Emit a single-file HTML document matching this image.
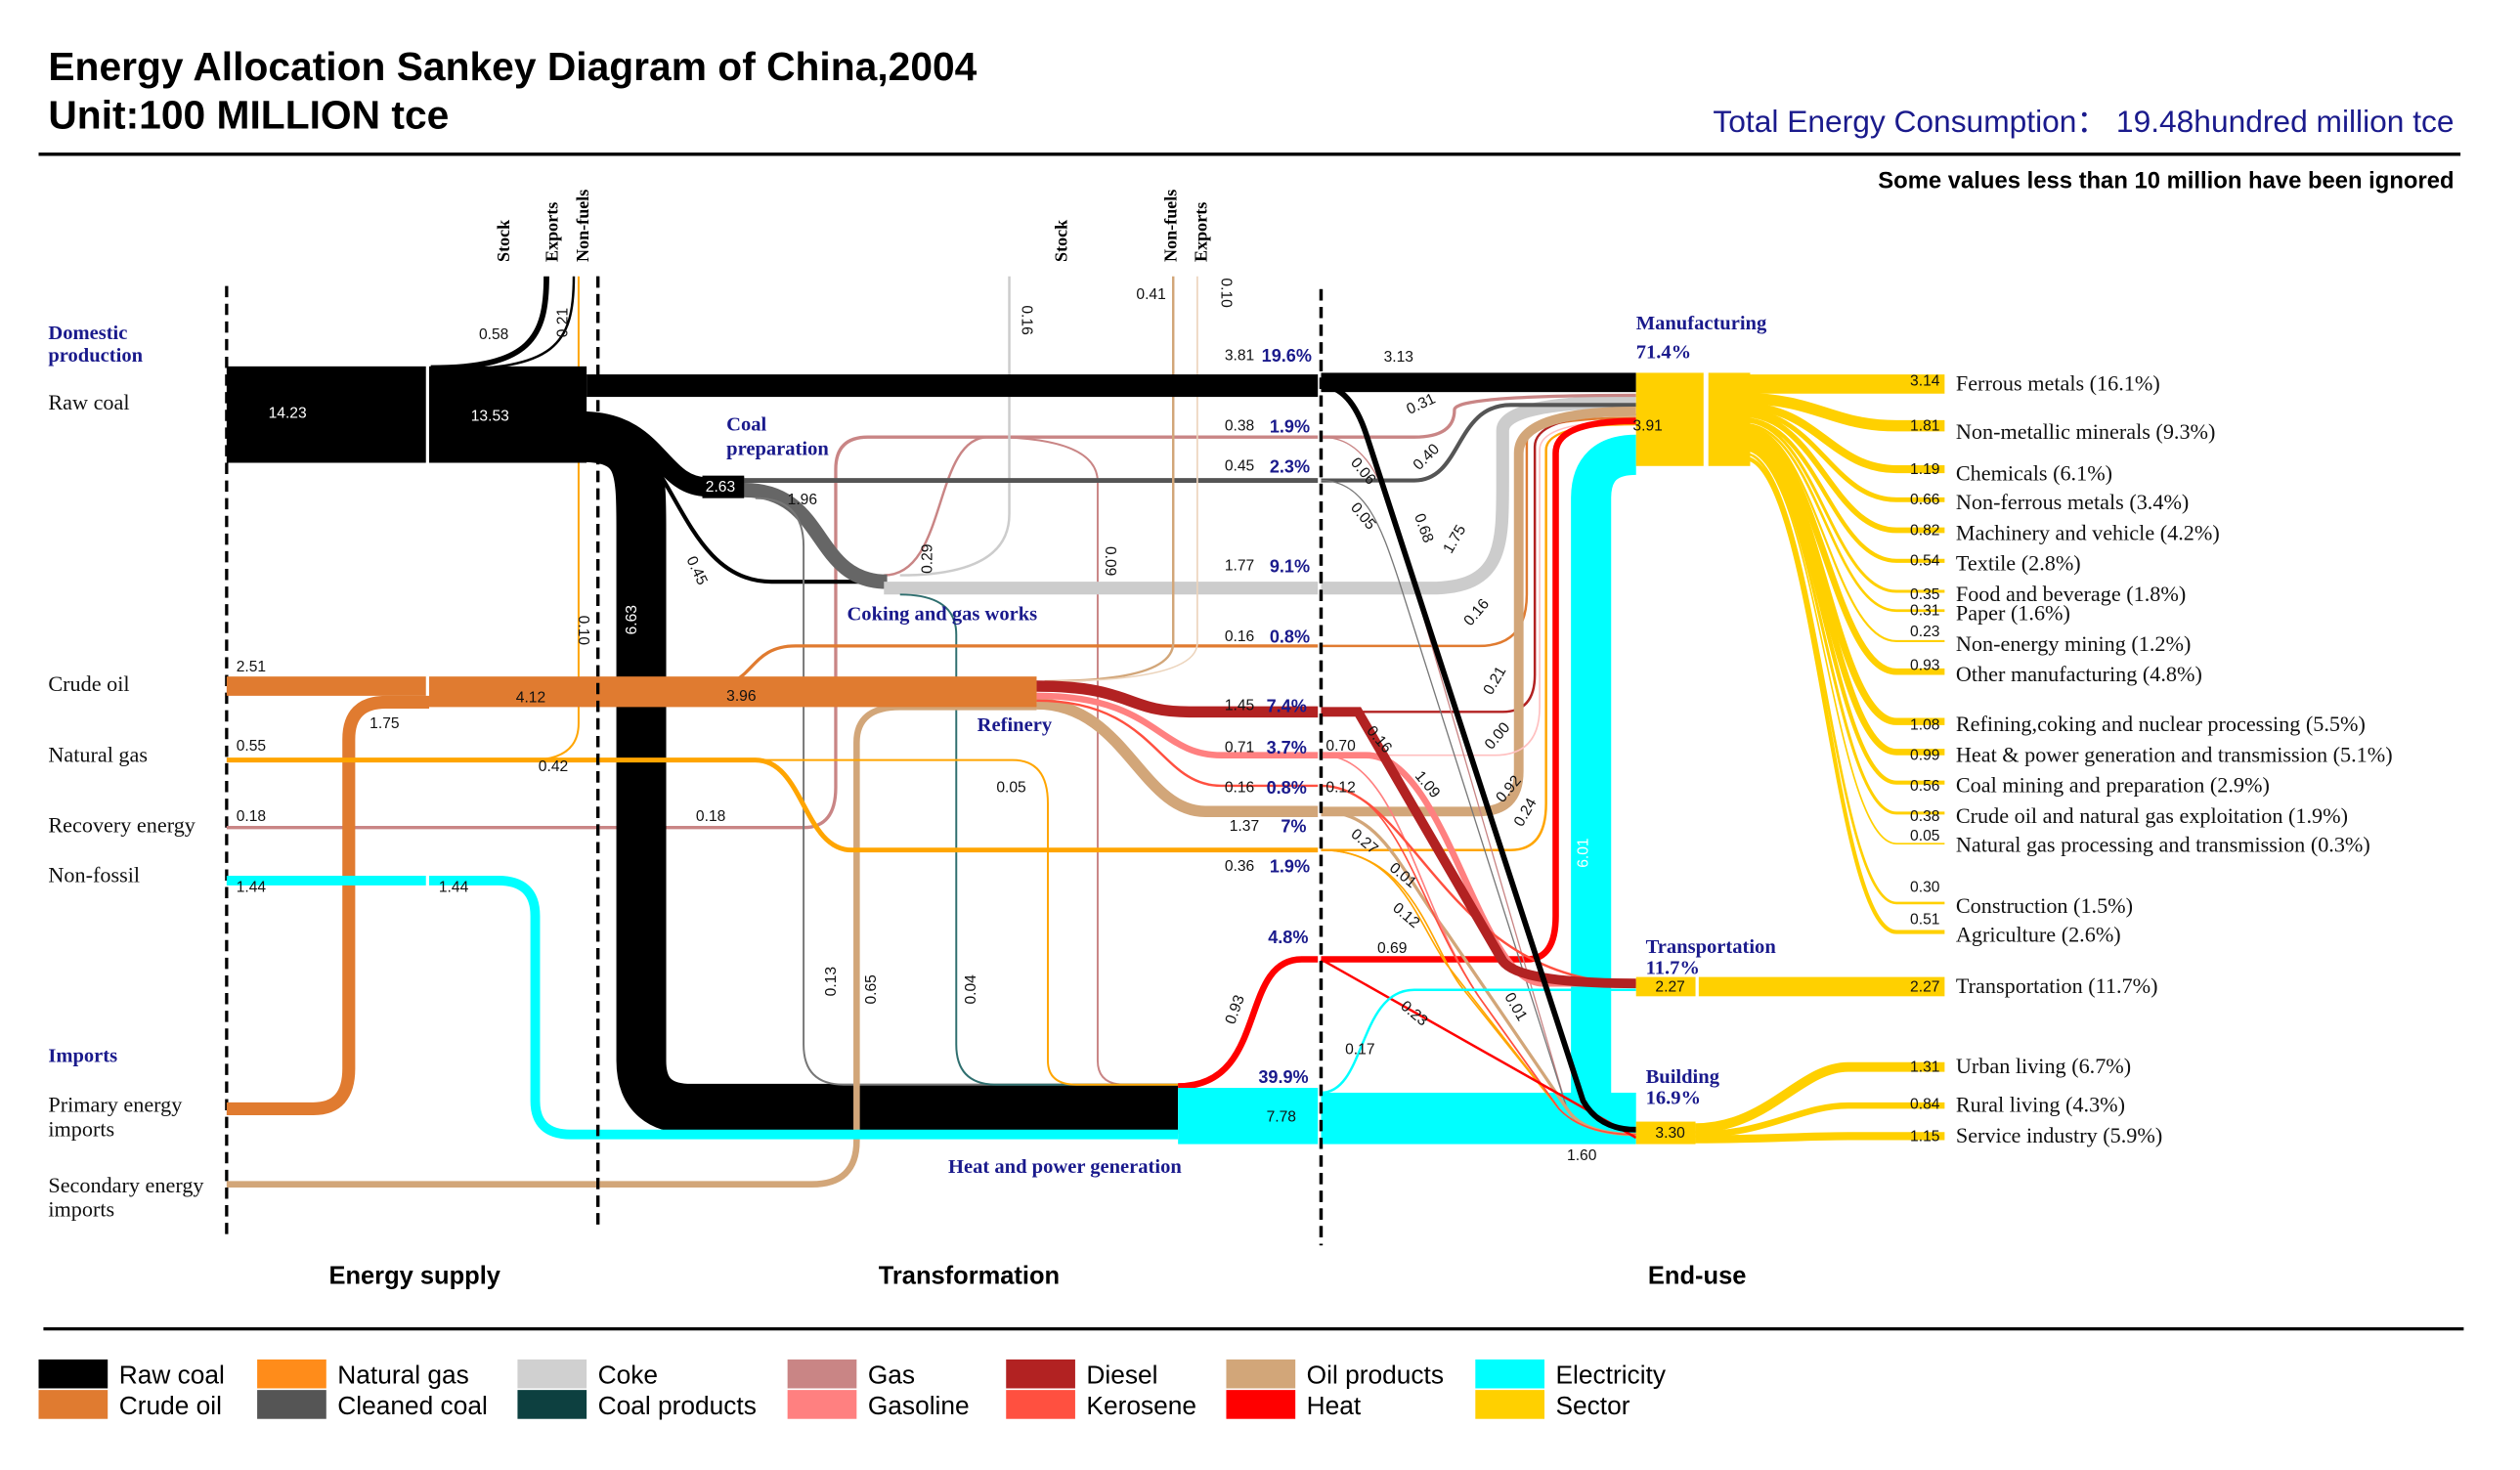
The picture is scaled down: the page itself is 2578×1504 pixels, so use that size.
<!DOCTYPE html>
<html><head><meta charset="utf-8"><style>
html,body{margin:0;padding:0;background:#fff;}
svg{display:block;}
.t{font-family:"Liberation Sans",sans-serif;}
.s{font-family:"Liberation Serif",serif;}
.n{font-family:"Liberation Sans",sans-serif;font-size:9.5px;fill:#111;}
.nw{font-family:"Liberation Sans",sans-serif;font-size:9.5px;fill:#fff;}
.lb{font-family:"Liberation Serif",serif;font-size:13.5px;fill:#111;}
.nv{font-family:"Liberation Serif",serif;font-size:12.5px;fill:#1a1a8c;font-weight:bold;}
.pc{font-family:"Liberation Sans",sans-serif;font-size:11px;fill:#1a1a8c;font-weight:bold;}
.f{fill:none;}
</style></head><body>
<svg width="2578" height="1504" viewBox="0 0 1568 914.8" xmlns="http://www.w3.org/2000/svg">
<rect width="1568" height="915" fill="#fff"/>
<!-- header -->
<text x="30" y="50" class="t" font-size="24.8" font-weight="bold">Energy Allocation Sankey Diagram of China,2004</text>
<text x="30" y="80" class="t" font-size="24.8" font-weight="bold">Unit:100 MILLION tce</text>
<text x="1527" y="82" class="t" font-size="19.3" fill="#1a1a8c" text-anchor="end">Total Energy Consumption：  19.48hundred million tce</text>
<line x1="24" y1="96" x2="1531" y2="96" stroke="#000" stroke-width="2"/>
<text x="1527" y="117" class="t" font-size="14.5" font-weight="bold" text-anchor="end">Some values less than 10 million have been ignored</text>

<!-- dashed columns -->
<g stroke="#000" stroke-width="2" stroke-dasharray="7,4">
<line x1="141" y1="178" x2="141" y2="770"/>
<line x1="372" y1="172" x2="372" y2="765"/>
<line x1="822" y1="180" x2="822" y2="775"/>
</g>

<!-- top labels -->
<g class="s" font-size="11" font-weight="bold">
<text transform="translate(317,163) rotate(-90)">Stock</text>
<text transform="translate(347,163) rotate(-90)">Exports</text>
<text transform="translate(366,163) rotate(-90)">Non-fuels</text>
<text transform="translate(664,163) rotate(-90)">Stock</text>
<text transform="translate(732,163) rotate(-90)">Non-fuels</text>
<text transform="translate(751,163) rotate(-90)">Exports</text>
</g>

<!-- Flows: transformation region -->
<g class="f">
<path d="M268,229 C330,229 340,210 340,172" stroke="#000" stroke-width="3.5"/>
<path d="M275,230 C345,230 357,215 357,172" stroke="#000" stroke-width="1.5"/>
<path d="M330,473 Q360,473 360,450 V172" stroke="#ffa500" stroke-width="1.2"/>
<path d="M141,515 H500 Q520,515 520,490 V292 Q520,272 540,272 H820" stroke="#c98585" stroke-width="2"/>
<path d="M550,358 C590,358 580,272 615,272" stroke="#c98585" stroke-width="1.5"/>
<path d="M615,272 Q683,272 683,300 V660 Q683,675 700,675 H733" stroke="#c98585" stroke-width="1.2"/>
<path d="M560,358 Q628,358 628,320 V172" stroke="#ccc" stroke-width="1.5"/>
<path d="M360,272 C399,272 399,290 399,330 V660 Q399,690 430,690 H733" stroke="#000" stroke-width="31"/>
<path d="M362,262 C410,262 410,303 440,303 H463" stroke="#000" stroke-width="12"/>
<path d="M370,265 C420,265 420,362 480,362 H550" stroke="#000" stroke-width="2.5"/>
<path d="M463,299 H820" stroke="#555" stroke-width="3"/>
<path d="M463,305 C515,305 505,362 552,362" stroke="#666" stroke-width="9"/>
<path d="M470,310 Q500,310 500,340 V650 Q500,675 525,675 H733" stroke="#777" stroke-width="1.2"/>
<path d="M550,366 H820" stroke="#ccc" stroke-width="8"/>
<path d="M560,370 Q595,370 595,395 V650 Q595,675 620,675 H733" stroke="#2f6f6f" stroke-width="1.2"/>
<path d="M141,690 H195 Q217,690 217,665 V460 Q217,437 240,437 H267" stroke="#e07b30" stroke-width="8"/>
<path d="M440,428 C470,428 465,402 495,402 H820" stroke="#e07b30" stroke-width="2"/>
<path d="M141,737 H505 Q533,737 533,710 V462 Q533,440 560,440 H645" stroke="#d2a679" stroke-width="4"/>
<path d="M650,424 Q730,424 730,400 V172" stroke="#d2a679" stroke-width="1.5"/>
<path d="M650,424 Q745,424 745,400 V172" stroke="#ecd4bc" stroke-width="1"/>
<path d="M141,473 H470 C500,473 500,529 530,529 H820" stroke="#ffa500" stroke-width="3"/>
<path d="M470,473 H630 Q652,473 652,500 V660 Q652,675 670,675 H733" stroke="#ffa500" stroke-width="1.2"/>
<path d="M645,438 C700,438 710,505 750,505 H820" stroke="#d2a679" stroke-width="7"/>
<path d="M645,436 C720,436 720,489 760,489 H820" stroke="#ff5040" stroke-width="1.5"/>
<path d="M645,433 C720,433 720,470 760,470 H820" stroke="#ff8080" stroke-width="4"/>
<path d="M645,427 C705,427 700,443 740,443 H820" stroke="#b22222" stroke-width="7"/>
<path d="M267,548 H310 Q333,548 333,570 V685 Q333,706 355,706 H733" stroke="#00ffff" stroke-width="6"/>
<path d="M733,676 C790,676 770,597 810,597 H820" stroke="#ff0000" stroke-width="4"/>
</g>
<rect x="141" y="228" width="124" height="60" fill="#000"/>
<rect x="267" y="228" width="98" height="60" fill="#000"/>
<rect x="365" y="233" width="455" height="14" fill="#000"/>
<rect x="437" y="296" width="26" height="14" fill="#000"/>
<rect x="141" y="421" width="124" height="12" fill="#e07b30"/>
<rect x="267" y="421" width="378" height="19" fill="#e07b30"/>
<rect x="141" y="545" width="124" height="6" fill="#00ffff"/>
<rect x="733" y="677" width="87" height="35" fill="#00ffff"/>
<line x1="372" y1="172" x2="372" y2="765" stroke="#000" stroke-width="2" stroke-dasharray="7,4"/>

<!-- End-use flows -->
<g class="f">
<rect x="822" y="680" width="196" height="32" fill="#00ffff" stroke="none"/>
<path d="M1018,283 Q990,283 990,310 V690" stroke="#00ffff" stroke-width="25"/>
<path d="M822,366 H890 C935,366 935,340 935,300 V268 Q935,250 1018,250" stroke="#ccc" stroke-width="8"/>
<path d="M822,272 H880 Q905,272 905,255 Q905,246 1018,246" stroke="#c98585" stroke-width="2"/>
<path d="M822,299 H880 C910,299 905,252 940,252 H1018" stroke="#555" stroke-width="2.5"/>
<path d="M822,402 H920 Q950,402 950,370 V275 Q950,260 1018,260" stroke="#e07b30" stroke-width="1.5"/>
<path d="M822,443 H935 Q955,443 955,420 V278 Q955,258 1018,258" stroke="#b22222" stroke-width="1.5"/>
<path d="M822,505 H920 Q945,505 945,480 V282 Q945,256 1018,256" stroke="#d2a679" stroke-width="6"/>
<path d="M822,529 H940 Q962,529 962,500 V280 Q962,264 1018,264" stroke="#ffa500" stroke-width="1.5"/>
<path d="M822,470 H930 Q958,470 958,440 V280 Q958,262 1018,262" stroke="#ffc0c0" stroke-width="1"/>
<path d="M822,597 H950 Q968,597 968,570 V282 Q968,262 1018,262" stroke="#ff0000" stroke-width="4"/>
<path d="M822,272 C850,272 860,300 870,330 L975,690 Q982,706 1018,706" stroke="#c98585" stroke-width="0.8"/>
<path d="M822,299 C850,299 860,330 870,360 L975,690 Q982,706 1018,706" stroke="#777" stroke-width="0.8"/>
<path d="M822,505 C860,505 870,540 900,580 L975,690 Q985,706 1018,706" stroke="#d2a679" stroke-width="2"/>
<path d="M822,529 C870,529 880,570 900,600 L970,690 Q985,706 1018,706" stroke="#ffa500" stroke-width="1"/>
<path d="M822,529 C880,529 890,590 910,615 L970,690 Q985,706 1018,706" stroke="#ffa500" stroke-width="1"/>
<path d="M822,470 C870,470 880,560 920,620 L970,690 Q985,706 1018,706" stroke="#ff8080" stroke-width="1"/>
<path d="M822,489 C870,489 880,560 920,620 L970,690 Q985,706 1018,706" stroke="#ff5040" stroke-width="1"/>
<path d="M822,597 L1018,708" stroke="#ff0000" stroke-width="1.5"/>
<path d="M822,680 C850,680 845,616 880,616 H1018" stroke="#00ffff" stroke-width="1.5"/>
<path d="M822,470 H850 C900,470 920,612 960,612 H1018" stroke="#ff8080" stroke-width="4"/>
<path d="M822,489 C880,489 900,612 1018,612" stroke="#ff5040" stroke-width="1.5"/>
<path d="M822,443 H845 L935,598 Q945,612 1018,612" stroke="#b22222" stroke-width="6"/>
<path d="M822,240 Q840,240 850,270 L985,685 Q995,703 1018,703" stroke="#000" stroke-width="3.5"/>
</g>
<rect x="822" y="232" width="196" height="12" fill="#000"/>
<line x1="822" y1="180" x2="822" y2="775" stroke="#000" stroke-width="2" stroke-dasharray="7,4"/>

<!-- Sector boxes -->
<rect x="1018" y="232" width="42" height="58" fill="#ffd000"/>
<rect x="1063" y="232" width="26" height="58" fill="#ffd000"/>
<rect x="1018" y="608" width="37" height="12" fill="#ffd000"/>
<rect x="1057" y="608" width="153" height="12" fill="#ffd000"/>
<rect x="1018" y="698" width="37" height="14" fill="#ffd000"/>
<g class="f" stroke="#ffd000">
<path d="M1085,239 H1210" stroke-width="12"/>
<path d="M1085,248 C1130,248 1140,265 1180,265 H1210" stroke-width="7"/>
<path d="M1085,253 C1130,253 1140,292 1180,292 H1210" stroke-width="5"/>
<path d="M1085,256 C1130,256 1140,311 1180,311 H1210" stroke-width="3"/>
<path d="M1085,258 C1130,258 1140,330 1180,330 H1210" stroke-width="3.5"/>
<path d="M1085,261 C1130,261 1140,349 1180,349 H1210" stroke-width="2.5"/>
<path d="M1085,262 C1130,262 1140,368 1180,368 H1210" stroke-width="1.8"/>
<path d="M1085,264 C1130,264 1140,380 1180,380 H1210" stroke-width="1.6"/>
<path d="M1085,265 C1130,265 1140,399 1180,399 H1210" stroke-width="1.3"/>
<path d="M1085,267 C1130,267 1140,418 1180,418 H1210" stroke-width="4"/>
<path d="M1085,270 C1130,270 1140,449 1180,449 H1210" stroke-width="4.5"/>
<path d="M1085,274 C1130,274 1140,468 1180,468 H1210" stroke-width="4"/>
<path d="M1085,277 C1130,277 1140,487 1180,487 H1210" stroke-width="2.5"/>
<path d="M1085,279 C1130,279 1140,506 1180,506 H1210" stroke-width="1.8"/>
<path d="M1085,280 C1130,280 1140,525 1180,525 H1210" stroke-width="1"/>
<path d="M1085,282 C1130,282 1140,562 1180,562 H1210" stroke-width="1.6"/>
<path d="M1085,285 C1130,285 1140,580 1180,580 H1210" stroke-width="2.5"/>
<path d="M1055,702 C1100,702 1120,664 1150,664 H1210" stroke-width="6"/>
<path d="M1055,706 C1100,706 1120,688 1150,688 H1210" stroke-width="4"/>
<path d="M1055,709 C1100,709 1120,707 1150,707 H1210" stroke-width="5"/>
</g>

<!-- left labels -->
<text x="30" y="211" class="nv" font-weight="normal">Domestic</text>
<text x="30" y="225" class="nv" font-weight="normal">production</text>
<text x="30" y="255" class="lb">Raw coal</text>
<text x="30" y="430" class="lb">Crude oil</text>
<text x="30" y="474" class="lb">Natural gas</text>
<text x="30" y="518" class="lb">Recovery energy</text>
<text x="30" y="549" class="lb">Non-fossil</text>
<text x="30" y="661" class="nv" font-weight="normal">Imports</text>
<text x="30" y="692" class="lb">Primary energy</text>
<text x="30" y="707" class="lb">imports</text>
<text x="30" y="742" class="lb">Secondary energy</text>
<text x="30" y="757" class="lb">imports</text>

<!-- stage labels -->
<text x="452" y="268" class="nv" font-weight="normal">Coal</text>
<text x="452" y="283" class="nv" font-weight="normal">preparation</text>
<text x="527" y="386" class="nv" font-weight="normal">Coking and gas works</text>
<text x="608" y="455" class="nv" font-weight="normal">Refinery</text>
<text x="590" y="730" class="nv" font-weight="normal">Heat and power generation</text>
<text x="1018" y="205" class="nv" font-weight="normal">Manufacturing</text>
<text x="1018" y="223" class="nv">71.4%</text>
<text x="1024" y="593" class="nv" font-weight="normal">Transportation</text>
<text x="1024" y="606" class="nv" font-weight="normal">11.7%</text>
<text x="1024" y="674" class="nv" font-weight="normal">Building</text>
<text x="1024" y="687" class="nv" font-weight="normal">16.9%</text>

<!-- numbers -->
<text x="167" y="260" class="nw">14.23</text>
<text x="293" y="262" class="nw">13.53</text>
<text x="298" y="211" class="n">0.58</text>
<text transform="translate(353,210) rotate(-90)" class="n">0.21</text>
<text x="147" y="418" class="n">2.51</text>
<text x="321" y="437" class="n">4.12</text>
<text x="452" y="436" class="n">3.96</text>
<text x="230" y="453" class="n">1.75</text>
<text x="147" y="467" class="n">0.55</text>
<text x="335" y="480" class="n">0.42</text>
<text x="147" y="511" class="n">0.18</text>
<text x="433" y="511" class="n">0.18</text>
<text x="147" y="555" class="n">1.44</text>
<text x="273" y="555" class="n">1.44</text>
<text transform="translate(360,383) rotate(90)" class="n">0.10</text>
<text transform="translate(396,395) rotate(-90)" class="nw">6.63</text>
<text transform="translate(427,348) rotate(65)" class="n">0.45</text>
<text x="439" y="306" class="nw">2.63</text>
<text x="490" y="314" class="n">1.96</text>
<text transform="translate(580,357) rotate(-90)" class="n">0.29</text>
<text transform="translate(636,190) rotate(90)" class="n">0.16</text>
<text transform="translate(688,340) rotate(90)" class="n">0.09</text>
<text x="707" y="186" class="n">0.41</text>
<text transform="translate(760,173) rotate(90)" class="n">0.10</text>
<text x="620" y="493" class="n">0.05</text>
<text transform="translate(520,620) rotate(-90)" class="n">0.13</text>
<text transform="translate(545,625) rotate(-90)" class="n">0.65</text>
<text transform="translate(607,625) rotate(-90)" class="n">0.04</text>
<text transform="translate(768,638) rotate(-70)" class="n">0.93</text>
<text x="788" y="698" class="n">7.78</text>
<g>
<text x="762" y="224" class="n">3.81</text><text x="785" y="225" class="pc">19.6%</text>
<text x="762" y="268" class="n">0.38</text><text x="790" y="269" class="pc">1.9%</text>
<text x="762" y="293" class="n">0.45</text><text x="790" y="294" class="pc">2.3%</text>
<text x="762" y="355" class="n">1.77</text><text x="790" y="356" class="pc">9.1%</text>
<text x="762" y="399" class="n">0.16</text><text x="790" y="400" class="pc">0.8%</text>
<text x="762" y="442" class="n">1.45</text><text x="788" y="443" class="pc">7.4%</text>
<text x="762" y="468" class="n">0.71</text><text x="788" y="469" class="pc">3.7%</text>
<text x="762" y="493" class="n">0.16</text><text x="788" y="494" class="pc">0.8%</text>
<text x="765" y="517" class="n">1.37</text><text x="797" y="518" class="pc">7%</text>
<text x="762" y="542" class="n">0.36</text><text x="790" y="543" class="pc">1.9%</text>
<text x="789" y="587" class="pc">4.8%</text>
<text x="783" y="674" class="pc">39.9%</text>
</g>
<text x="861" y="225" class="n">3.13</text>
<text transform="translate(877,258) rotate(-25)" class="n">0.31</text>
<text transform="translate(883,293) rotate(-45)" class="n">0.40</text>
<text transform="translate(840,288) rotate(50)" class="n">0.06</text>
<text transform="translate(840,316) rotate(50)" class="n">0.05</text>
<text transform="translate(880,321) rotate(70)" class="n">0.68</text>
<text transform="translate(903,345) rotate(-60)" class="n">1.75</text>
<text transform="translate(915,390) rotate(-50)" class="n">0.16</text>
<text transform="translate(928,433) rotate(-60)" class="n">0.21</text>
<text transform="translate(928,467) rotate(-50)" class="n">0.00</text>
<text transform="translate(935,500) rotate(-50)" class="n">0.92</text>
<text transform="translate(947,515) rotate(-60)" class="n">0.24</text>
<text x="825" y="467" class="n">0.70</text>
<text x="825" y="493" class="n">0.12</text>
<text transform="translate(850,455) rotate(50)" class="n">0.16</text>
<text transform="translate(880,483) rotate(50)" class="n">1.09</text>
<text transform="translate(840,520) rotate(40)" class="n">0.27</text>
<text transform="translate(864,541) rotate(40)" class="n">0.01</text>
<text transform="translate(866,566) rotate(40)" class="n">0.12</text>
<text transform="translate(936,620) rotate(60)" class="n">0.01</text>
<text x="857" y="593" class="n">0.69</text>
<text transform="translate(871,627) rotate(40)" class="n">0.23</text>
<text x="837" y="656" class="n">0.17</text>
<text transform="translate(988,540) rotate(-90)" class="nw">6.01</text>
<text x="1016" y="268" class="n">3.91</text>
<text x="975" y="722" class="n">1.60</text>
<text x="1030" y="617" class="n">2.27</text>
<text x="1030" y="708" class="n">3.30</text>

<!-- right values and labels -->
<g class="n" text-anchor="end">
<text x="1207" y="240">3.14</text><text x="1207" y="268">1.81</text><text x="1207" y="295">1.19</text>
<text x="1207" y="314">0.66</text><text x="1207" y="333">0.82</text><text x="1207" y="352">0.54</text>
<text x="1207" y="373">0.35</text><text x="1207" y="383">0.31</text><text x="1207" y="396">0.23</text>
<text x="1207" y="417">0.93</text><text x="1207" y="454">1.08</text><text x="1207" y="473">0.99</text>
<text x="1207" y="492">0.56</text><text x="1207" y="511">0.38</text><text x="1207" y="523">0.05</text>
<text x="1207" y="555">0.30</text><text x="1207" y="575">0.51</text><text x="1207" y="617">2.27</text>
<text x="1207" y="667">1.31</text><text x="1207" y="690">0.84</text><text x="1207" y="710">1.15</text>
</g>
<g class="lb">
<text x="1217" y="243">Ferrous metals (16.1%)</text>
<text x="1217" y="273">Non-metallic minerals (9.3%)</text>
<text x="1217" y="299">Chemicals (6.1%)</text>
<text x="1217" y="317">Non-ferrous metals (3.4%)</text>
<text x="1217" y="336">Machinery and vehicle (4.2%)</text>
<text x="1217" y="355">Textile (2.8%)</text>
<text x="1217" y="374">Food and beverage (1.8%)</text>
<text x="1217" y="386">Paper (1.6%)</text>
<text x="1217" y="405">Non-energy mining (1.2%)</text>
<text x="1217" y="424">Other manufacturing (4.8%)</text>
<text x="1217" y="455">Refining,coking and nuclear processing (5.5%)</text>
<text x="1217" y="474">Heat &amp; power generation and transmission (5.1%)</text>
<text x="1217" y="493">Coal mining and preparation (2.9%)</text>
<text x="1217" y="512">Crude oil and natural gas exploitation (1.9%)</text>
<text x="1217" y="530">Natural gas processing and transmission (0.3%)</text>
<text x="1217" y="568">Construction (1.5%)</text>
<text x="1217" y="586">Agriculture (2.6%)</text>
<text x="1217" y="618">Transportation (11.7%)</text>
<text x="1217" y="668">Urban living (6.7%)</text>
<text x="1217" y="692">Rural living (4.3%)</text>
<text x="1217" y="711">Service industry (5.9%)</text>
</g>

<!-- bottom stage labels -->
<g class="t" font-size="15.5" font-weight="bold" text-anchor="middle">
<text x="258" y="799">Energy supply</text>
<text x="603" y="799">Transformation</text>
<text x="1056" y="799">End-use</text>
</g>
<line x1="27" y1="827" x2="1533" y2="827" stroke="#000" stroke-width="2"/>

<!-- legend -->
<g class="t" font-size="16">
<rect x="24" y="846" width="43" height="18" fill="#000"/><text x="74" y="861">Raw coal</text>
<rect x="24" y="865" width="43" height="18" fill="#e07b30"/><text x="74" y="880">Crude oil</text>
<rect x="160" y="846" width="43" height="18" fill="#ff8c1a"/><text x="210" y="861">Natural gas</text>
<rect x="160" y="865" width="43" height="18" fill="#555"/><text x="210" y="880">Cleaned coal</text>
<rect x="322" y="846" width="43" height="18" fill="#d0d0d0"/><text x="372" y="861">Coke</text>
<rect x="322" y="865" width="43" height="18" fill="#0d4040"/><text x="372" y="880">Coal products</text>
<rect x="490" y="846" width="43" height="18" fill="#c98585"/><text x="540" y="861">Gas</text>
<rect x="490" y="865" width="43" height="18" fill="#ff8080"/><text x="540" y="880">Gasoline</text>
<rect x="626" y="846" width="43" height="18" fill="#b22222"/><text x="676" y="861">Diesel</text>
<rect x="626" y="865" width="43" height="18" fill="#ff5040"/><text x="676" y="880">Kerosene</text>
<rect x="763" y="846" width="43" height="18" fill="#d2a679"/><text x="813" y="861">Oil products</text>
<rect x="763" y="865" width="43" height="18" fill="#ff0000"/><text x="813" y="880">Heat</text>
<rect x="918" y="846" width="43" height="18" fill="#00ffff"/><text x="968" y="861">Electricity</text>
<rect x="918" y="865" width="43" height="18" fill="#ffd000"/><text x="968" y="880">Sector</text>
</g>
</svg>
</body></html>
